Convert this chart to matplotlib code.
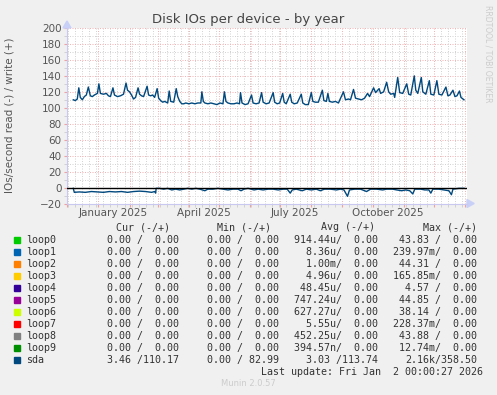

# Disk IOs per device - by year (munin style), redrawn with matplotlib

import numpy as np
import matplotlib.pyplot as plt
import matplotlib.dates as mdates
import matplotlib.transforms as mtransforms
from matplotlib.patches import Rectangle, Polygon

# sda write IOs (+), vertices: day offset from 1 Dec 2024, value
write_days = [6, 8, 10, 11.5, 13, 15, 17, 19, 21, 23, 25, 27, 30, 31.5, 33, 36, 39, 41, 43,
              45.5, 47, 50, 53, 56, 58.5, 60, 62, 64, 66, 68, 70.5, 72, 74, 76, 79.5, 81, 83,
              85, 87, 89.5, 91, 93, 95, 97, 100, 101.5, 103, 106, 108.5, 110, 112, 114, 116,
              118, 121, 124, 127, 130, 133, 134, 135.5, 137, 140, 143, 146, 149, 152, 155,
              156.5, 158, 160, 163, 166, 169, 171.5, 172.5, 174, 177, 180, 183.5, 185, 188,
              191, 193.5, 195, 198, 201, 205, 206.5, 209, 211.5, 214.5, 216, 218, 222, 223.5,
              226, 229, 233, 234.5, 237, 240, 243, 244.5, 247, 250, 254, 255.5, 258, 259.5,
              261, 264, 267, 270, 275, 277, 280, 282, 285, 287, 290, 293, 296, 299, 301, 305,
              307, 310.5, 312, 315, 318, 320, 322, 325, 326, 329, 331, 334, 338, 340, 342,
              345.5, 347, 349, 352.5, 354, 357, 360.5, 362, 365, 368, 370, 373, 377, 379, 381,
              384, 386, 388, 390.5, 392, 395]
write_vals = [110, 109, 111, 125, 113, 110, 114, 116, 126, 115, 114, 116, 118, 130, 118, 117,
              118, 115, 114, 125, 116, 114, 115, 117, 131, 122, 120, 116, 111, 113, 125, 117,
              115, 114, 127, 116, 115, 116, 113, 124, 112, 109, 107, 108, 106, 121, 108, 107,
              124, 114, 108, 105, 105, 106, 105, 106, 105, 106, 106, 120, 108, 106, 105, 106,
              105, 104, 106, 105, 120, 108, 106, 105, 105, 106, 105, 119, 106, 104, 105, 116,
              106, 105, 106, 119, 107, 105, 106, 119, 107, 105, 106, 118, 107, 105, 117, 107,
              105, 106, 117, 106, 104, 104, 119, 108, 107, 107, 122, 109, 108, 118, 108, 107,
              108, 106, 120, 110, 111, 110, 123, 112, 111, 110, 112, 118, 114, 125, 119, 124,
              118, 120, 132, 120, 117, 118, 113, 138, 119, 118, 130, 117, 116, 140, 122, 118,
              138, 120, 117, 134, 117, 116, 134, 117, 116, 126, 115, 116, 122, 114, 115, 121,
              113, 110]

# sda read IOs (-), drawn below zero
read_days = [6, 7, 12, 18, 24, 30, 36, 42, 48, 54, 60, 66, 72, 78, 84, 87, 88, 88.5, 92, 96,
             100, 104, 108, 112, 116, 120, 124, 128, 132, 137, 140, 145, 150, 155, 160, 165,
             170, 173, 176, 180, 186, 190, 195, 200, 205, 210, 215, 219, 222, 224, 228, 234,
             238, 243, 248, 252, 256, 262, 268, 272, 275.5, 279, 281, 286, 292, 298, 302, 308,
             314, 318, 324, 328, 333, 337, 341, 344, 346, 352, 356, 360, 362, 364, 370, 375,
             380, 382.5, 384, 390, 395]
read_vals = [1, 6, 5.5, 6, 5, 5.5, 6, 5, 5.5, 5, 6, 5, 4.5, 5, 6, 5, 7, 1, 1, 2, 1, 3, 2, 3,
             2, 1, 2, 1, 2, 4, 2, 2, 1, 2, 3, 2, 2, 4, 2, 1, 3, 2, 3, 2, 2, 3, 2, 2, 7, 3, 2,
             4, 2, 3, 2, 4, 2, 2, 3, 2, 3, 11, 3, 2, 2, 5, 2, 2, 3, 2, 2, 3, 4, 3, 4, 8, 2, 2,
             3, 3, 7, 2, 2, 3, 4, 9, 2, 1, 1]

# legend table
names = ['loop0', 'loop1', 'loop2', 'loop3', 'loop4', 'loop5', 'loop6', 'loop7', 'loop8',
         'loop9', 'sda']
colors = ['#00CC00', '#0066B3', '#FF8000', '#FFCC00', '#330099', '#990099', '#CCFF00',
          '#FF0000', '#808080', '#008F00', '#00487D']
cur_txt = ['0.00 /  0.00'] * 10 + ['3.46 /110.17']
min_txt = ['0.00 /  0.00'] * 10 + ['0.00 / 82.99']
avg_txt = ['914.44u/  0.00', '8.36u/  0.00', '1.00m/  0.00', '4.96u/  0.00', '48.45u/  0.00',
           '747.24u/  0.00', '627.27u/  0.00', '5.55u/  0.00', '452.25u/  0.00',
           '394.57n/  0.00', '3.03 /113.74']
max_txt = ['43.83 /  0.00', '239.97m/  0.00', '44.31 /  0.00', '165.85m/  0.00',
           '4.57 /  0.00', '44.85 /  0.00', '38.14 /  0.00', '228.37m/  0.00',
           '43.88 /  0.00', '12.74m/  0.00', '2.16k/358.50']

quarter_labels = ['January 2025', 'April 2025', 'July 2025', 'October 2025']
quarter_dates = ['2025-01-16', '2025-04-16', '2025-07-16', '2025-10-16']

base = np.datetime64('2024-12-01T00:00')
def to_dates(days):
    return base + (np.array(days) * 24 * 60).astype('timedelta64[m]')

W, H = 497, 395
fig = plt.figure(figsize=(W / 100, H / 100), dpi=100, facecolor='#F0F0F0')
ax = fig.add_axes([67 / W, 1 - 203.5 / H, 400 / W, 175.5 / H], facecolor='white')

# lines
ax.plot(to_dates(write_days), write_vals, color='#00487D', lw=1.0, zorder=4)
ax.plot(to_dates(read_days), -np.array(read_vals), color='#00487D', lw=1.0, zorder=4)
ax.axhline(0, color='black', lw=1.0, zorder=5)

# axis ranges
ax.set_xlim(np.datetime64('2024-11-30T18:00'), np.datetime64('2026-01-03T00:00'))
ax.set_ylim(-20, 200)

# grids: major red, minor grey, both dotted
ax.xaxis.set_major_locator(mdates.MonthLocator())
ax.xaxis.set_minor_locator(mdates.WeekdayLocator(byweekday=mdates.MO))
ax.set_yticks(np.arange(-20, 201, 20))
ax.set_yticks(np.arange(-20, 201, 10), minor=True)
ax.grid(which='major', color='#F2B4B4', lw=0.72, linestyle=(0, (1, 1.5)))
ax.grid(which='minor', color='#D4D4D4', lw=0.72, linestyle=(0, (1, 1.5)))
ax.set_axisbelow(True)
ax.xaxis.set_major_formatter(plt.NullFormatter())
ax.tick_params(axis='x', which='major', length=2, color='#F0A0A0')
ax.tick_params(axis='x', which='minor', length=2, color='#CCCCCC')
ax.tick_params(axis='y', which='major', length=2, color='#F0A0A0', labelsize=7.5,
               labelcolor='#555555', pad=2)
ax.tick_params(axis='y', which='minor', length=2, color='#CCCCCC')

for s in ['top', 'right']:
    ax.spines[s].set_visible(False)
for s in ['left', 'bottom']:
    ax.spines[s].set_color('#C8C8F0')
    ax.spines[s].set_linewidth(0.8)

# axis arrows
ax.add_patch(Polygon([[-4 / 400, 1.0], [4 / 400, 1.0], [0, 1.04]], closed=True,
                     transform=ax.transAxes, color='#C8D0F8', clip_on=False))
ax.add_patch(Polygon([[1.0, -4 / 175.5], [1.0, 4 / 175.5], [1.018, 0]], closed=True,
                     transform=ax.transAxes, color='#C8D0F8', clip_on=False))

# quarter labels at mid month
trans = mtransforms.blended_transform_factory(ax.transData, ax.transAxes)
for lab, d in zip(quarter_labels, quarter_dates):
    ax.text(mdates.date2num(np.datetime64(d)), -0.052, lab, transform=trans, ha='center',
            va='center', fontsize=7.5, color='#555555')

# titles
fig.text(248 / W, 1 - 19 / H, 'Disk IOs per device - by year', ha='center', va='center',
         fontsize=9.5, color='#444444')
fig.text(10 / W, 1 - 115 / H, 'IOs/second read (-) / write (+)', rotation=90, ha='center',
         va='center', fontsize=7.5, color='#555555')
fig.text(488 / W, 1 - 54 / H, 'RRDTOOL / TOBI OETIKER', rotation=270, ha='center',
         va='center', fontsize=5.5, color='#CCCCCC')

# legend table
mono = 'DejaVu Sans Mono'
fs = 7.2
tc = '#333333'
hy = 1 - 227.5 / H
for txt, xr in [('Cur (-/+)', 170), ('Min (-/+)', 271), ('Avg (-/+)', 375), ('Max (-/+)', 477)]:
    fig.text(xr / W, hy, txt, ha='right', va='center', family=mono, fontsize=fs, color=tc)

for i, name in enumerate(names):
    yc = 240 + 12 * i
    fy = 1 - yc / H
    fig.patches.append(Rectangle((14 / W, 1 - (yc + 3) / H), 6 / W, 6 / H, color=colors[i],
                                 transform=fig.transFigure, figure=fig))
    fig.text(26.5 / W, fy, name, ha='left', va='center', family=mono, fontsize=fs, color=tc)
    fig.text(179 / W, fy, cur_txt[i], ha='right', va='center', family=mono, fontsize=fs, color=tc)
    fig.text(279 / W, fy, min_txt[i], ha='right', va='center', family=mono, fontsize=fs, color=tc)
    fig.text(378 / W, fy, avg_txt[i], ha='right', va='center', family=mono, fontsize=fs, color=tc)
    fig.text(477 / W, fy, max_txt[i], ha='right', va='center', family=mono, fontsize=fs, color=tc)

fig.text(483 / W, 1 - 372 / H, 'Last update: Fri Jan  2 00:00:27 2026', ha='right',
         va='center', family=mono, fontsize=fs, color=tc)
fig.text(248 / W, 1 - 384 / H, 'Munin 2.0.57', ha='center', va='center', fontsize=6,
         color='#CCCCCC')

fig.savefig('out.png', dpi=100, facecolor=fig.get_facecolor())
